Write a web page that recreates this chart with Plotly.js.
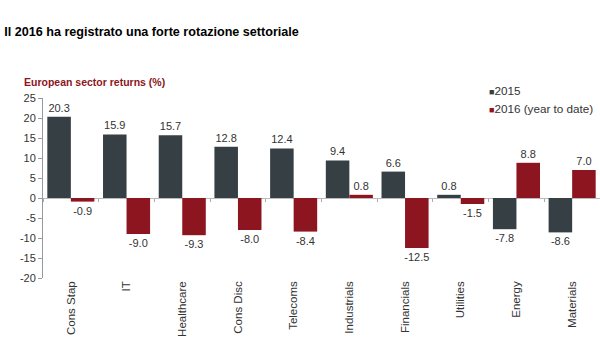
<!DOCTYPE html>
<html>
<head>
<meta charset="utf-8">
<script src="https://cdn.plot.ly/plotly-3.0.1.min.js"></script>
<style>html,body{margin:0;padding:0;background:#fff;}#chart{width:600px;height:360px;}</style>
</head>
<body>
<div id="chart"></div>
<script>
const sectors = ["Cons Stap","IT","Healthcare","Cons Disc","Telecoms","Industrials","Financials","Utilities","Energy","Materials"];
const returns2015 = [20.3, 15.9, 15.7, 12.8, 12.4, 9.4, 6.6, 0.8, -7.8, -8.6];
const returns2016 = [-0.9, -9.0, -9.3, -8.0, -8.4, 0.8, -12.5, -1.5, 8.8, 7.0];
const seriesNames = ["2015", "2016 (year to date)"];
const seriesColors = ["#363f44", "#8c1520"];
const yTicks = [25, 20, 15, 10, 5, 0, -5, -10, -15, -20];
const yMin = -20, yMax = 25;

const FAM = "Liberation Sans, Arial, sans-serif";
const font = {family: FAM, size: 11, color: "#333"};

const traces = [
  {type: "bar", name: seriesNames[0], x: sectors, y: returns2015,
   marker: {color: seriesColors[0]},
   text: returns2015.map(v => v.toFixed(1)), textposition: "outside",
   textfont: font, cliponaxis: false, constraintext: "none", textangle: 0, hoverinfo: "skip"},
  {type: "bar", name: seriesNames[1], x: sectors, y: returns2016,
   marker: {color: seriesColors[1]},
   text: returns2016.map(v => v.toFixed(1)), textposition: "outside",
   textfont: font, cliponaxis: false, constraintext: "none", textangle: 0, hoverinfo: "skip"},
  // invisible trace so the zero-level category axis draws its boundary ticks
  {type: "scatter", mode: "markers", x: sectors, y: sectors.map(() => null), xaxis: "x2",
   marker: {opacity: 0}, hoverinfo: "skip", showlegend: false}
];

// Compact legend (small square swatch right next to the label), as in the reference
const legendY = [1.044, 0.944];
const legendAnn = seriesNames.map((n, i) => ({
  text: "<span style='color:" + seriesColors[i] + ";font-size:9px'>■</span>" + n,
  xref: "paper", yref: "paper", x: 0.797, y: legendY[i], xanchor: "left", yanchor: "middle",
  showarrow: false, font: {family: FAM, size: 11.7, color: "#333"}
}));

const xRange = [-0.5, sectors.length - 0.5];

const layout = {
  width: 600, height: 360,
  margin: {l: 43, r: 0, t: 98, b: 82},
  paper_bgcolor: "#fff", plot_bgcolor: "#fff",
  font: font,
  barmode: "group", bargap: 0.155, bargroupgap: 0,
  showlegend: false,
  title: {text: "<b>Il 2016 ha registrato una forte rotazione settoriale</b>",
          font: {family: FAM, size: 12.6, color: "#000"},
          xref: "container", x: 0.007, xanchor: "left",
          yref: "container", y: 1 - 32/360, yanchor: "middle"},
  annotations: [{text: "<b>European sector returns (%)</b>", xref: "paper", yref: "paper",
                 x: -0.038, y: 1.09, xanchor: "left", yanchor: "middle", showarrow: false,
                 font: {family: FAM, size: 10.5, color: "#8c1520"}}].concat(legendAnn),
  xaxis: {type: "category", categoryarray: sectors, range: xRange, tickangle: -90, showline: false, ticks: "", showgrid: false,
          zeroline: false, tickfont: {family: FAM, size: 11.5, color: "#333"}, fixedrange: true},
  xaxis2: {type: "category", categoryarray: sectors, range: xRange, overlaying: "x",
           anchor: "free", position: (0 - yMin) / (yMax - yMin),
           showline: false, showgrid: false, zeroline: false, showticklabels: false,
           ticks: "outside", tickson: "boundaries", ticklen: 3, tickcolor: "#aaa", fixedrange: true},
  yaxis: {range: [yMin, yMax], tickvals: yTicks, ticktext: yTicks.map(String),
          showgrid: false, showline: true, linecolor: "#999", linewidth: 1,
          ticks: "outside", ticklen: 4, tickcolor: "#999",
          zeroline: true, zerolinecolor: "#bbb", zerolinewidth: 1,
          tickfont: font, fixedrange: true}
};

Plotly.newPlot("chart", traces, layout, {displayModeBar: false, staticPlot: true});
</script>
</body>
</html>
